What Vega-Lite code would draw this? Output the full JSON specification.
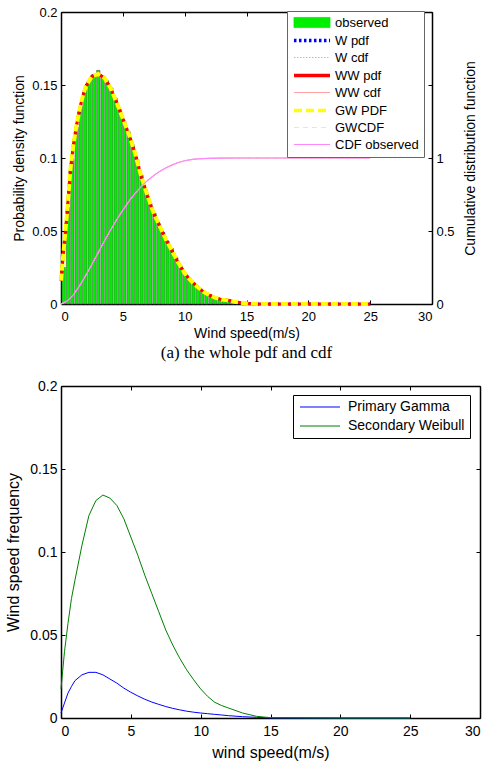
{
  "$schema": "https://vega.github.io/schema/vega-lite/v6.json",
  "background": "white",
  "padding": {"left": 5, "top": 6, "right": 2, "bottom": 4},
  "bounds": "flush",
  "spacing": 82,
  "datasets": {
    "hist": [
      {"lo": 0, "hi": 0.35, "h": 0.025}, {"lo": 0.35, "hi": 0.7, "h": 0.066}, {"lo": 0.7, "hi": 1.05, "h": 0.099},
      {"lo": 1.05, "hi": 1.4, "h": 0.121}, {"lo": 1.4, "hi": 1.75, "h": 0.136}, {"lo": 1.75, "hi": 2.1, "h": 0.147},
      {"lo": 2.1, "hi": 2.45, "h": 0.153}, {"lo": 2.45, "hi": 2.8, "h": 0.157}, {"lo": 2.8, "hi": 3.15, "h": 0.16},
      {"lo": 3.15, "hi": 3.5, "h": 0.156}, {"lo": 3.5, "hi": 3.85, "h": 0.153}, {"lo": 3.85, "hi": 4.2, "h": 0.148},
      {"lo": 4.2, "hi": 4.55, "h": 0.141}, {"lo": 4.55, "hi": 4.9, "h": 0.133}, {"lo": 4.9, "hi": 5.25, "h": 0.125},
      {"lo": 5.25, "hi": 5.6, "h": 0.118}, {"lo": 5.6, "hi": 5.95, "h": 0.109}, {"lo": 5.95, "hi": 6.3, "h": 0.099},
      {"lo": 6.3, "hi": 6.65, "h": 0.088}, {"lo": 6.65, "hi": 7.0, "h": 0.078}, {"lo": 7.0, "hi": 7.35, "h": 0.069},
      {"lo": 7.35, "hi": 7.7, "h": 0.062}, {"lo": 7.7, "hi": 8.05, "h": 0.055}, {"lo": 8.05, "hi": 8.4, "h": 0.049},
      {"lo": 8.4, "hi": 8.75, "h": 0.043}, {"lo": 8.75, "hi": 9.1, "h": 0.038}, {"lo": 9.1, "hi": 9.45, "h": 0.032},
      {"lo": 9.45, "hi": 9.8, "h": 0.026}, {"lo": 9.8, "hi": 10.15, "h": 0.021}, {"lo": 10.15, "hi": 10.5, "h": 0.018},
      {"lo": 10.5, "hi": 10.85, "h": 0.014}, {"lo": 10.85, "hi": 11.2, "h": 0.012}, {"lo": 11.2, "hi": 11.55, "h": 0.009},
      {"lo": 11.55, "hi": 11.9, "h": 0.0075}, {"lo": 11.9, "hi": 12.25, "h": 0.0057}, {"lo": 12.25, "hi": 12.6, "h": 0.0042},
      {"lo": 12.6, "hi": 12.95, "h": 0.0032}, {"lo": 12.95, "hi": 13.3, "h": 0.0024}, {"lo": 13.3, "hi": 13.65, "h": 0.0017},
      {"lo": 13.65, "hi": 14.0, "h": 0.001}
    ],
    "pdf": [
      {"v": 0, "p": 0.016}, {"v": 0.25, "p": 0.04}, {"v": 0.5, "p": 0.063}, {"v": 0.75, "p": 0.091},
      {"v": 1, "p": 0.109}, {"v": 1.25, "p": 0.122}, {"v": 1.5, "p": 0.133}, {"v": 1.75, "p": 0.142},
      {"v": 2, "p": 0.149}, {"v": 2.5, "p": 0.156}, {"v": 3, "p": 0.1575}, {"v": 3.5, "p": 0.155},
      {"v": 4, "p": 0.148}, {"v": 4.5, "p": 0.138}, {"v": 5, "p": 0.127}, {"v": 5.5, "p": 0.116},
      {"v": 6, "p": 0.103}, {"v": 6.5, "p": 0.087}, {"v": 7, "p": 0.074}, {"v": 7.5, "p": 0.062},
      {"v": 8, "p": 0.053}, {"v": 8.5, "p": 0.044}, {"v": 9, "p": 0.036}, {"v": 9.5, "p": 0.028},
      {"v": 10, "p": 0.021}, {"v": 10.5, "p": 0.016}, {"v": 11, "p": 0.012}, {"v": 11.5, "p": 0.0085},
      {"v": 12, "p": 0.006}, {"v": 12.5, "p": 0.0042}, {"v": 13, "p": 0.003}, {"v": 13.5, "p": 0.0025},
      {"v": 14, "p": 0.0015}, {"v": 15, "p": 0.0004}, {"v": 16, "p": 0}, {"v": 20, "p": 0}, {"v": 25, "p": 0}
    ],
    "cdf": [
      {"v": 0, "c": 0}, {"v": 0.5, "c": 0.02}, {"v": 1, "c": 0.063}, {"v": 1.5, "c": 0.124},
      {"v": 2, "c": 0.195}, {"v": 2.5, "c": 0.272}, {"v": 3, "c": 0.35}, {"v": 3.5, "c": 0.43},
      {"v": 4, "c": 0.505}, {"v": 4.5, "c": 0.577}, {"v": 5, "c": 0.643}, {"v": 5.5, "c": 0.704},
      {"v": 6, "c": 0.759}, {"v": 6.5, "c": 0.806}, {"v": 7, "c": 0.846}, {"v": 7.5, "c": 0.88},
      {"v": 8, "c": 0.909}, {"v": 8.5, "c": 0.933}, {"v": 9, "c": 0.953}, {"v": 9.5, "c": 0.969},
      {"v": 10, "c": 0.981}, {"v": 10.5, "c": 0.989}, {"v": 11, "c": 0.994}, {"v": 12, "c": 0.998},
      {"v": 13, "c": 0.9995}, {"v": 15, "c": 1}, {"v": 20, "c": 1}, {"v": 25, "c": 1}
    ],
    "bottom": [
      {"v": 0, "gamma": 0.003, "weibull": 0.0175}, {"v": 0.25, "gamma": 0.009, "weibull": 0.04},
      {"v": 0.5, "gamma": 0.015, "weibull": 0.057}, {"v": 0.75, "gamma": 0.019, "weibull": 0.072},
      {"v": 1, "gamma": 0.0225, "weibull": 0.083}, {"v": 1.5, "gamma": 0.026, "weibull": 0.104},
      {"v": 2, "gamma": 0.0275, "weibull": 0.122}, {"v": 2.5, "gamma": 0.0275, "weibull": 0.131},
      {"v": 3, "gamma": 0.026, "weibull": 0.1343}, {"v": 3.5, "gamma": 0.0235, "weibull": 0.1325},
      {"v": 4, "gamma": 0.021, "weibull": 0.128}, {"v": 4.5, "gamma": 0.018, "weibull": 0.12},
      {"v": 5, "gamma": 0.0155, "weibull": 0.109}, {"v": 5.5, "gamma": 0.0133, "weibull": 0.098},
      {"v": 6, "gamma": 0.0113, "weibull": 0.086}, {"v": 6.5, "gamma": 0.0096, "weibull": 0.075},
      {"v": 7, "gamma": 0.0082, "weibull": 0.064}, {"v": 7.5, "gamma": 0.0069, "weibull": 0.053},
      {"v": 8, "gamma": 0.0058, "weibull": 0.044}, {"v": 8.5, "gamma": 0.0049, "weibull": 0.036},
      {"v": 9, "gamma": 0.0041, "weibull": 0.029}, {"v": 9.5, "gamma": 0.0035, "weibull": 0.023},
      {"v": 10, "gamma": 0.003, "weibull": 0.0175}, {"v": 10.5, "gamma": 0.0026, "weibull": 0.013},
      {"v": 11, "gamma": 0.0022, "weibull": 0.0095}, {"v": 11.5, "gamma": 0.0018, "weibull": 0.0075},
      {"v": 12, "gamma": 0.0014, "weibull": 0.006}, {"v": 13, "gamma": 0.0008, "weibull": 0.003},
      {"v": 14, "gamma": 0.0004, "weibull": 0.001}, {"v": 15, "gamma": 0.0001, "weibull": 0.0002},
      {"v": 20, "gamma": 0, "weibull": 0}, {"v": 25, "gamma": 0, "weibull": 0}
    ]
  },
  "config": {
    "font": "Liberation Sans",
    "view": {"stroke": null},
    "axis": {
      "domainColor": "black", "domainWidth": 1.5, "tickColor": "black", "tickWidth": 1,
      "labelColor": "black", "titleColor": "black", "grid": false,
      "labelFont": "Liberation Sans", "titleFont": "Liberation Sans", "titleFontWeight": "normal",
      "tickSize": -4, "labelPadding": 8
    }
  },
  "resolve": {"scale": {"color": "independent"}, "legend": {"color": "independent"}},
  "vconcat": [
    {
      "width": 371,
      "height": 292,
      "title": {"text": "(a) the whole pdf and cdf", "orient": "bottom", "anchor": "middle", "frame": "group", "font": "Liberation Serif", "fontSize": 17, "fontWeight": "normal", "color": "black", "offset": 5},
      "layer": [
        {
          "layer": [
            {
              "data": {"name": "hist"},
              "mark": {"type": "bar", "color": "#00ee00", "stroke": "#555555", "strokeWidth": 0.6},
              "encoding": {
                "x": {"field": "lo", "type": "quantitative", "bin": "binned", "scale": {"domain": [0, 30], "nice": false},
                      "axis": {"title": "Wind speed(m/s)", "values": [0, 5, 10, 15, 20, 25, 30], "format": "~g", "labelFontSize": 13, "titleFontSize": 14, "titlePadding": 3, "labelPadding": 10}},
                "x2": {"field": "hi"},
                "y": {"field": "h", "type": "quantitative", "scale": {"domain": [0, 0.2], "nice": false},
                      "axis": {"title": "Probability density function", "values": [0, 0.05, 0.1, 0.15, 0.2], "format": "~g", "labelFontSize": 13, "titleFontSize": 14, "titlePadding": 5}}
              }
            },
            {
              "data": {"name": "pdf"},
              "mark": {"type": "line", "strokeWidth": 3, "strokeDash": [2, 2]},
              "encoding": {
                "x": {"field": "v", "type": "quantitative"},
                "y": {"field": "p", "type": "quantitative"},
                "color": {"datum": "W pdf", "type": "nominal",
                  "scale": {"domain": ["observed", "W pdf", "W cdf", "WW pdf", "WW cdf", "GW PDF", "GWCDF", "CDF observed"],
                            "range": ["#00ee00", "#0000ff", "#b0b0ff", "#ff0000", "#ffa0a0", "#ffff00", "#f0f090", "#ff88ff"]},
                  "legend": {
                    "orient": "none", "legendX": 226, "legendY": -1, "title": null,
                    "symbolType": "M-5,0H5", "symbolSize": 52, "labelFontSize": 13, "labelFont": "Liberation Sans", "labelColor": "black",
                    "strokeColor": "#666666", "fillColor": "white", "padding": 5, "rowPadding": 3, "labelOffset": 30,
                    "encode": {"symbols": {"update": {
                      "x": {"value": 20},
                      "shape": {"signal": "datum.value == 'observed' ? 'M-5,-1.4H5V1.4H-5Z' : 'M-5,0H5'"},
                      "fill": {"signal": "datum.value == 'observed' ? '#00ee00' : 'transparent'"},
                      "strokeDash": {"signal": "datum.value == 'W pdf' ? [2.5, 2.5] : datum.value == 'W cdf' ? [1.5, 1.5] : datum.value == 'GW PDF' ? [8, 4] : datum.value == 'GWCDF' ? [5, 4] : [1, 0]"},
                      "strokeWidth": {"signal": "datum.value == 'observed' ? 0.8 : (datum.value == 'W pdf' || datum.value == 'WW pdf' || datum.value == 'GW PDF') ? 3.5 : 1.2"}
                    }}}
                  }}
              }
            },
            {
              "data": {"name": "pdf"},
              "mark": {"type": "line", "strokeWidth": 3},
              "encoding": {
                "x": {"field": "v", "type": "quantitative"},
                "y": {"field": "p", "type": "quantitative"},
                "color": {"datum": "WW pdf", "type": "nominal"}
              }
            },
            {
              "data": {"name": "pdf"},
              "mark": {"type": "line", "strokeWidth": 4, "strokeDash": [7, 3]},
              "encoding": {
                "x": {"field": "v", "type": "quantitative"},
                "y": {"field": "p", "type": "quantitative"},
                "color": {"datum": "GW PDF", "type": "nominal"}
              }
            }
          ]
        },
        {
          "layer": [
            {
              "data": {"name": "cdf"},
              "mark": {"type": "line", "strokeWidth": 1, "strokeDash": [1.5, 1.5]},
              "encoding": {
                "x": {"field": "v", "type": "quantitative", "axis": {"orient": "top", "labels": false, "title": null, "values": [0, 5, 10, 15, 20, 25, 30]}},
                "y": {"field": "c", "type": "quantitative", "scale": {"domain": [0, 2], "nice": false},
                      "axis": {"orient": "right", "title": "Cumulative distribution function", "titleAngle": 270, "values": [0, 0.5, 1, 1.5, 2], "format": "~g",
                               "labelExpr": "datum.value <= 1 ? datum.label : ''", "labelFontSize": 13, "titleFontSize": 14, "titlePadding": 23}},
                "color": {"datum": "W cdf", "type": "nominal"}
              }
            },
            {
              "data": {"name": "cdf"},
              "mark": {"type": "line", "strokeWidth": 1},
              "encoding": {
                "x": {"field": "v", "type": "quantitative", "axis": {"orient": "top", "labels": false, "title": null, "values": [0, 5, 10, 15, 20, 25, 30]}},
                "y": {"field": "c", "type": "quantitative", "axis": {"orient": "right", "title": "Cumulative distribution function", "titleAngle": 270, "values": [0, 0.5, 1, 1.5, 2], "format": "~g",
                               "labelExpr": "datum.value <= 1 ? datum.label : ''", "labelFontSize": 13, "titleFontSize": 14, "titlePadding": 23}},
                "color": {"datum": "WW cdf", "type": "nominal"}
              }
            },
            {
              "data": {"name": "cdf"},
              "mark": {"type": "line", "strokeWidth": 1, "strokeDash": [5, 4]},
              "encoding": {
                "x": {"field": "v", "type": "quantitative", "axis": {"orient": "top", "labels": false, "title": null, "values": [0, 5, 10, 15, 20, 25, 30]}},
                "y": {"field": "c", "type": "quantitative", "axis": {"orient": "right", "title": "Cumulative distribution function", "titleAngle": 270, "values": [0, 0.5, 1, 1.5, 2], "format": "~g",
                               "labelExpr": "datum.value <= 1 ? datum.label : ''", "labelFontSize": 13, "titleFontSize": 14, "titlePadding": 23}},
                "color": {"datum": "GWCDF", "type": "nominal"}
              }
            },
            {
              "data": {"name": "cdf"},
              "mark": {"type": "line", "strokeWidth": 1.2},
              "encoding": {
                "x": {"field": "v", "type": "quantitative", "axis": {"orient": "top", "labels": false, "title": null, "values": [0, 5, 10, 15, 20, 25, 30]}},
                "y": {"field": "c", "type": "quantitative", "axis": {"orient": "right", "title": "Cumulative distribution function", "titleAngle": 270, "values": [0, 0.5, 1, 1.5, 2], "format": "~g",
                               "labelExpr": "datum.value <= 1 ? datum.label : ''", "labelFontSize": 13, "titleFontSize": 14, "titlePadding": 23}},
                "color": {"datum": "CDF observed", "type": "nominal"}
              }
            }
          ]
        }
      ],
      "resolve": {"scale": {"y": "independent"}, "axis": {"x": "independent", "y": "independent"}}
    },
    {
      "width": 419,
      "height": 332,
      "data": {"name": "bottom"},
      "layer": [
        {
          "mark": {"type": "line", "strokeWidth": 1},
          "encoding": {
            "x": {"field": "v", "type": "quantitative", "scale": {"domain": [0, 30], "nice": false},
                  "axis": {"orient": "top", "labels": false, "title": null, "values": [0, 5, 10, 15, 20, 25, 30]}},
            "y": {"field": "gamma", "type": "quantitative", "scale": {"domain": [0, 0.2], "nice": false},
                  "axis": {"orient": "right", "labels": false, "title": null, "values": [0, 0.05, 0.1, 0.15, 0.2]}},
            "color": {"datum": "Primary Gamma", "type": "nominal",
              "scale": {"domain": ["Primary Gamma", "Secondary Weibull"], "range": ["#0000ff", "#008000"]},
              "legend": {"orient": "none", "legendX": 232, "legendY": 9, "title": null,
                "symbolType": "M-5,0H5", "symbolSize": 64, "symbolStrokeWidth": 1, "labelFontSize": 14, "labelFont": "Liberation Sans", "labelColor": "black",
                "strokeColor": "black", "fillColor": "white", "padding": 5, "rowPadding": 5, "labelOffset": 36,
                "encode": {"symbols": {"update": {"x": {"value": 22}}}}}}
          }
        },
        {
          "mark": {"type": "line", "strokeWidth": 1},
          "encoding": {
            "x": {"field": "v", "type": "quantitative",
                  "axis": {"title": "wind speed(m/s)", "values": [0, 5, 10, 15, 20, 25, 30], "labelFontSize": 14, "titleFontSize": 16, "titlePadding": 6, "labelPadding": 10}},
            "y": {"field": "weibull", "type": "quantitative",
                  "axis": {"title": "Wind speed frequency", "values": [0, 0.05, 0.1, 0.15, 0.2], "format": "~g", "labelFontSize": 14, "titleFontSize": 16, "titlePadding": 8}},
            "color": {"datum": "Secondary Weibull", "type": "nominal"}
          }
        }
      ],
      "resolve": {"axis": {"x": "independent", "y": "independent"}}
    }
  ]
}
